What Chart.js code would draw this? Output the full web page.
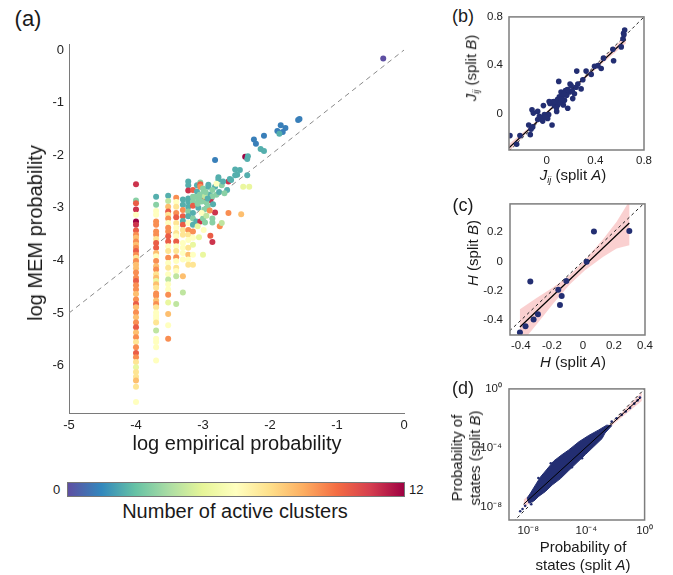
<!DOCTYPE html>
<html>
<head>
<meta charset="utf-8">
<script src="https://cdn.jsdelivr.net/npm/chart.js@4.4.1/dist/chart.umd.min.js"></script>
<style>
  body { margin: 0; background: #fff; width: 673px; height: 575px; position: relative; overflow: hidden;
         font-family: Arial, "Liberation Sans", sans-serif; color: #1a1a1a; }
  canvas { position: absolute; }
  .lbl { position: absolute; white-space: nowrap; line-height: 1; }
  .ctr { transform: translate(-50%, -50%); text-align: center; }
  .rot { transform: translate(-50%, -50%) rotate(-90deg); text-align: center; }
  .cbar { position: absolute; left: 67px; top: 482px; width: 336px; height: 13px; border: 1px solid #777; }
  sub { font-size: 60%; vertical-align: -0.3em; }
</style>
</head>
<body>
<canvas id="chartA" width="400" height="408" style="left:14px;top:32px"></canvas>
<canvas id="chartB" width="183" height="168" style="left:474px;top:4px"></canvas>
<canvas id="chartC" width="183" height="167" style="left:474px;top:190px"></canvas>
<canvas id="chartD" width="183" height="167" style="left:474px;top:375px"></canvas>

<div class="lbl ctr" style="left:28px;top:19px;font-size:22px">(a)</div>
<div class="lbl rot" style="left:35px;top:233px;font-size:20px">log MEM probability</div>
<div class="lbl ctr" style="left:237px;top:443px;font-size:20px">log empirical probability</div>
<div class="cbar" id="cbar"></div>
<div class="lbl" style="left:53px;top:483px;font-size:13px">0</div>
<div class="lbl" style="left:409px;top:483px;font-size:13px">12</div>
<div class="lbl ctr" style="left:235px;top:511px;font-size:20px">Number of active clusters</div>

<div class="lbl ctr" style="left:463px;top:16px;font-size:18px">(b)</div>
<div class="lbl rot" style="left:472px;top:68px;font-size:15px"><i>J</i><sub><i>ij</i></sub> (split <i>B</i>)</div>
<div class="lbl ctr" style="left:573px;top:176px;font-size:15px"><i>J</i><sub><i>ij</i></sub> (split <i>A</i>)</div>

<div class="lbl ctr" style="left:463px;top:205px;font-size:18px">(c)</div>
<div class="lbl rot" style="left:472px;top:253px;font-size:15px"><i>H</i> (split <i>B</i>)</div>
<div class="lbl ctr" style="left:573px;top:361px;font-size:15px"><i>H</i> (split <i>A</i>)</div>

<div class="lbl ctr" style="left:463px;top:388px;font-size:18px">(d)</div>
<div class="lbl rot" style="left:466px;top:458px;font-size:15px;line-height:18px">Probability of<br>states (split <i>B</i>)</div>
<div class="lbl ctr" style="left:583px;top:556px;font-size:15px;line-height:18px">Probability of<br>states (split <i>A</i>)</div>

<script>
// ---------- (a) data: log empirical vs log MEM probability ----------
// columns of states seen only a few times (x = log of count / N)
const colX = [-4, -3.7, -3.52, -3.4, -3.3, -3.22, -3.15];
const colY = [
  [-2.55, -2.86, -2.91, -3.03, -3.13, -3.26, -3.32, -3.43, -3.51, -3.57,
   -3.64, -3.70, -3.76, -3.82, -3.89, -3.95, -4.01, -4.08, -4.15, -4.23,
   -4.33, -4.39, -4.47, -4.55, -4.64, -4.74, -4.83, -4.89, -4.99, -5.08,
   -5.18, -5.27, -5.37, -5.46, -5.55, -5.65, -5.76, -5.84, -5.93, -6.03,
   -6.12, -6.21, -6.28, -6.40, -6.69],
  [-2.79, -2.94, -3.06, -3.13, -3.26, -3.32, -3.45, -3.51, -3.59, -3.67,
   -3.76, -3.86, -3.92, -4.01, -4.11, -4.17, -4.26, -4.33, -4.39, -4.45,
   -4.52, -4.63, -4.67, -4.76, -4.83, -4.89, -4.99, -5.05, -5.11, -5.18,
   -5.33, -5.49, -5.55, -5.65, -5.90],
  [-2.77, -2.87, -2.98, -3.07, -3.13, -3.20, -3.29, -3.38, -3.45, -3.54,
   -3.64, -3.73, -3.82, -3.95, -4.05, -4.14, -4.26, -4.36, -4.45, -4.55,
   -4.65, -4.80, -5.02, -5.23, -5.49],
  [-2.81, -2.89, -2.98, -3.10, -3.18, -3.29, -3.38, -3.48, -3.54, -3.64,
   -3.73, -3.82, -3.94, -4.01, -4.14, -4.20, -4.30, -4.83],
  [-2.84, -2.94, -3.04, -3.16, -3.25, -3.32, -3.42, -3.51, -3.67, -3.76,
   -3.86, -3.98, -4.30, -4.61],
  [-2.50, -2.57, -2.67, -2.82, -2.88, -2.98, -3.07, -3.16, -3.29, -3.42,
   -3.51, -3.61, -3.76, -3.89, -3.98, -4.08],
  [-2.66, -2.79, -2.88, -2.96, -3.10, -3.20, -3.32, -3.45, -3.57, -3.70,
   -3.89, -4.08]
];
const colC = [
  [11, 3, 10, 11, 6, 12, 11, 10, 9, 8,
   9, 8, 9, 10, 9, 7, 9, 8, 8, 9,
   9, 10, 9, 9, 8, 9, 10, 8, 9, 8,
   9, 10, 8, 9, 7, 9, 10, 9, 7, 5,
   7, 7, 8, 7, 6],
  [2, 3, 6, 6, 9, 9, 9, 9, 7, 10,
   10, 8, 6, 9, 8, 9, 7, 8, 5, 8,
   7, 9, 9, 8, 9, 7, 6, 6, 6, 7,
   4, 6, 6, 6, 6],
  [2, 4, 8, 10, 7, 9, 6, 9, 9, 10,
   10, 6, 7, 9, 6, 7, 6, 4, 6, 6,
   9, 5, 8, 6, 9],
  [9, 6, 7, 9, 10, 7, 6, 7, 6, 10,
   6, 7, 9, 6, 7, 6, 4, 4],
  [2, 2, 9, 10, 2, 10, 7, 7, 6, 6,
   6, 6, 8, 4],
  [2, 2, 11, 2, 2, 2, 3, 2, 6, 9,
   7, 6, 7, 8, 6, 7],
  [10, 3, 3, 10, 2, 3, 2, 9, 6, 5,
   6, 7]
];
// frequent states, scattered toward the diagonal
const sprX = [
  -0.31, -1.58, -1.56, -1.84, -1.77, -1.89, -1.81, -1.86, -2.09, -2.24,
  -2.21, -2.14, -2.09, -2.82, -2.37, -2.34, -2.33, -2.52, -2.49, -2.34,
  -2.45, -2.52, -2.40, -2.31, -2.62, -2.60, -2.58, -2.77, -2.77, -2.72,
  -2.70, -2.64, -3.09, -3.09, -3.04, -3.04, -3.04, -3.00, -2.92, -2.92,
  -2.90, -2.82, -2.80, -2.86, -3.12, -3.07, -3.02, -2.98, -2.89, -2.95,
  -2.86, -3.07, -2.98, -2.93, -2.82, -2.85, -2.80, -2.76, -2.68, -2.62,
  -2.43, -2.75, -2.72, -3.10, -3.04, -3.00, -2.97, -2.86, -2.86, -2.89,
  -2.86, -3.00, -3.06, -3.02, -2.95, -2.90, -3.08, -2.99, -3.05, -3.00,
  -2.97, -3.02, -2.96, -3.08, -2.93
];
const sprY = [
  -0.16, -1.33, -1.31, -1.43, -1.48, -1.54, -1.56, -1.59, -1.63, -1.70,
  -1.78, -1.88, -1.92, -2.09, -2.03, -2.07, -2.02, -2.27, -2.37, -2.38,
  -2.28, -2.38, -2.60, -2.60, -2.50, -2.45, -2.47, -2.42, -2.46, -2.57,
  -2.50, -2.66, -2.57, -2.69, -2.52, -2.55, -2.60, -2.63, -2.60, -2.56,
  -2.75, -2.60, -2.54, -2.66, -2.79, -2.84, -2.80, -2.86, -2.86, -2.90,
  -2.78, -3.00, -3.03, -2.97, -3.09, -2.93, -2.75, -2.70, -2.72, -3.10,
  -3.12, -3.35, -3.29, -3.26, -3.26, -3.20, -3.28, -3.20, -3.28, -3.53,
  -3.65, -3.89, -3.56, -3.10, -3.15, -3.05, -3.35, -3.42, -2.75, -2.72,
  -2.78, -2.88, -2.70, -2.92, -2.82
];
const sprC = [
  0, 1, 1, 1, 1, 1, 1, 2, 1, 1,
  1, 2, 2, 1, 12, 2, 2, 2, 2, 2,
  2, 2, 5, 5, 11, 2, 2, 2, 2, 3,
  2, 2, 2, 2, 3, 10, 9, 3, 2, 2,
  2, 2, 6, 3, 3, 3, 3, 10, 11, 3,
  3, 2, 3, 3, 11, 2, 3, 2, 3, 9,
  8, 9, 4, 2, 11, 3, 3, 3, 3, 10,
  11, 5, 5, 6, 4, 9, 5, 6, 3, 3,
  4, 3, 3, 3, 2
];
const diagA = [-5, 0];
const aTicksX = [-5, -4, -3, -2, -1, 0];
const aTicksY = [0, -1, -2, -3, -4, -5, -6];
const maxClusters = 12;

// ---------- (b) couplings J_ij, split A vs split B ----------
const bX = [-0.302, -0.247, -0.22, -0.148, -0.129, -0.135, -0.115, -0.121, -0.110, -0.074,
            -0.060, -0.074, -0.047, -0.033, -0.019, -0.027, 0, 0.016, 0.008, 0.044,
            0.027, 0.049, 0.063, 0.077, 0.082, 0.091, 0.099, 0.104, 0.118, 0.118,
            0.132, 0.137, 0.146, 0.154, 0.165, 0.173, 0.187, 0.192, 0.201, 0.214,
            0.228, 0.242, 0.247, 0.256, 0.283, 0.297, 0.324, 0.366, 0.393, 0.421,
            0.448, 0.467, 0.550, 0.544, 0.613, 0.627, 0.632, 0.641, 0.635, 0.06,
            0.09, 0.11, 0.14, 0.17, 0.21, 0.12, 0.08, -0.01, 0.02];
const bY = [-0.181, -0.253, -0.181, -0.093, -0.128, -0.173, -0.109, 0.032, 0.005, 0.019,
            -0.021, -0.048, -0.035, -0.061, -0.008, 0.067, -0.021, -0.008, -0.040, -0.093,
            0.085, 0.099, 0.067, 0.099, 0.019, 0.072, 0.267, 0.139, 0.099, 0.179,
            0.152, 0.072, 0.112, 0.192, 0.152, 0.045, 0.179, 0.245, 0.232, 0.125,
            0.165, 0.219, 0.352, 0.245, 0.205, 0.280, 0.352, 0.325, 0.392, 0.397,
            0.373, 0.459, 0.437, 0.533, 0.552, 0.619, 0.664, 0.691, 0.653, 0.10,
            0.12, 0.09, 0.16, 0.20, 0.19, 0.12, 0.05, -0.03, 0.10];
const fitBX = [-0.31, 0.65];
const fitBY = [-0.281, 0.613];
const bandBX = [-0.31, -0.15, 0, 0.15, 0.3, 0.45, 0.65];
const bandBUp = [-0.25, -0.118, 0.02, 0.161, 0.301, 0.446, 0.645];
const bandBLo = [-0.312, -0.146, -0.004, 0.135, 0.273, 0.408, 0.581];
const diagB = [-0.31, 0.8];
const bTicks = [0, 0.4, 0.8];

// ---------- (c) fields H, split A vs split B ----------
const cX = [-0.406, -0.37, -0.339, -0.318, -0.29, -0.159, -0.137, -0.148, -0.107, 0.024, 0.071, 0.299];
const cY = [-0.483, -0.441, -0.137, -0.394, -0.359, -0.192, -0.235, -0.296, -0.133, -0.003, 0.203, 0.206];
const fitCX = [-0.406, 0.299];
const fitCY = [-0.446, 0.260];
const bandCX = [-0.406, -0.299, -0.191, -0.084, 0.013, 0.131, 0.217, 0.299];
const bandCUp = [-0.326, -0.249, -0.176, -0.092, 0.009, 0.152, 0.268, 0.41];
const bandCLo = [-0.566, -0.429, -0.286, -0.156, -0.061, 0.032, 0.088, 0.11];
const diagC = [-0.5, 0.4];
const cTicksX = [-0.4, -0.2, 0, 0.2, 0.4];
const cTicksY = [-0.4, -0.2, 0, 0.2];

// ---------- (d) state probabilities (log10), split A vs split B ----------
// outline of the dense cloud of states, then the few loose states
const blobX = [-8.07, -7.84, -7.50, -7.16, -6.70, -6.24, -5.67, -5.21, -4.52, -3.84, -3.18, -2.60,
               -2.26, -2.72, -2.92, -3.49, -4.07, -4.64, -5.21, -5.78, -6.35, -6.81, -7.27, -7.61, -7.95];
const blobY = [-7.40, -7.07, -6.52, -5.98, -5.44, -4.89, -4.46, -4.14, -3.59, -3.16, -2.80, -2.46,
               -2.50, -3.00, -3.37, -3.91, -4.46, -5.00, -5.54, -6.09, -6.52, -6.96, -7.29, -7.61, -7.76];
const strayX = [-2.26, -1.92, -1.57, -1.30, -1.0, -0.71, -0.48, -0.32,
                -8.21, -8.39, -7.79, -8.55, -7.30, -6.45, -5.00, -4.30];
const strayY = [-2.22, -2.0, -1.76, -1.53, -1.29, -1.0, -0.78, -0.59,
                -7.94, -8.15, -7.83, -8.31, -6.05, -5.05, -5.32, -4.70];
const fitDX = [-8.32, -0.32];
const fitDY = [-7.83, -0.63];
const bandDX = [-8.3, -6, -4, -2, -0.2];
const bandDUp = [-7.51, -5.64, -3.88, -2.04, -0.22];
const bandDLo = [-8.11, -5.84, -4.00, -2.28, -0.82];
const diagD = [-9.32, 0];
const dTicks = [-8, -4, 0];

// ---------- styling helpers ----------
const FONT = 'Arial, "Liberation Sans", sans-serif';
const NAVY = '#232e72';
const PINK = 'rgba(244, 150, 150, 0.45)';
// matplotlib Spectral, reversed (0 clusters = purple, 12 = crimson)
const spectralR = ['#5e4fa2', '#3288bd', '#66c2a5', '#abdda4', '#e6f598', '#ffffbf',
                   '#fee08b', '#fdae61', '#f46d43', '#d53e4f', '#9e0142'];

function hexRgb(h) {
    return [parseInt(h.slice(1, 3), 16), parseInt(h.slice(3, 5), 16), parseInt(h.slice(5, 7), 16)];
}
function clusterColor(c) {
    const t = c / maxClusters * (spectralR.length - 1);
    const i = Math.min(Math.floor(t), spectralR.length - 2);
    const f = t - i;
    const a = hexRgb(spectralR[i]), b = hexRgb(spectralR[i + 1]);
    const m = a.map((v, k) => Math.round(v + (b[k] - v) * f));
    return `rgb(${m[0]}, ${m[1]}, ${m[2]})`;
}
const zip = (xs, ys) => xs.map((x, i) => ({ x, y: ys[i] }));

document.getElementById('cbar').style.background =
    'linear-gradient(to right, ' + spectralR.join(', ') + ')';

// draws a box around the plotting area
const framePlugin = {
    id: 'frame',
    afterDraw(chart, args, opts) {
        if (!opts.show) return;
        const { ctx, chartArea: a } = chart;
        ctx.save();
        ctx.strokeStyle = '#7d7d7d';
        ctx.lineWidth = 1.5;
        ctx.strokeRect(a.left, a.top, a.right - a.left, a.bottom - a.top);
        ctx.restore();
    }
};

const sup = { '-': '\u207B', '0': '\u2070', '4': '\u2074', '8': '\u2078' };
const powLabel = v => '10' + String(v).split('').map(ch => sup[ch]).join('');

function makeOptions(o) {
    const axis = (min, max, ticks, fit, pad) => ({
        type: 'linear', min, max,
        grid: { display: false, drawTicks: false },
        border: { display: !o.frame, color: '#7a7a7a', width: 1 },
        afterBuildTicks: s => { s.ticks = ticks.map(v => ({ value: v })); },
        afterFit: fit,
        ticks: { font: { family: FONT, size: o.fs }, color: '#222', padding: pad,
                 maxRotation: 0, autoSkip: false, callback: o.fmt || (v => String(v)) }
    });
    return {
        responsive: false,
        animation: false,
        events: [],
        layout: { padding: { left: 0, top: o.top, right: o.right, bottom: 0 } },
        plugins: { legend: { display: false }, tooltip: { enabled: false }, frame: { show: o.frame } },
        scales: {
            x: axis(o.xMin, o.xMax, o.xTicks, s => { s.height = o.xH; }, o.xPad),
            y: axis(o.yMin, o.yMax, o.yTicks, s => { s.width = o.yW; }, o.yPad)
        }
    };
}

function lineSet(xs, ys, color, width, dash, order) {
    return { type: 'line', data: zip(xs, ys), borderColor: color, borderWidth: width,
             borderDash: dash, pointRadius: 0, fill: false, tension: 0, order };
}
function bandSet(xs, up, lo, order) {
    const pts = zip(xs, up).concat(zip(xs, lo).reverse());
    pts.push(pts[0]);
    return { type: 'line', data: pts, borderWidth: 0, borderColor: 'rgba(0,0,0,0)',
             backgroundColor: PINK, pointRadius: 0, fill: 'shape', tension: 0, order };
}

// ---------- (a) ----------
const aPoints = [], aColors = [];
colX.forEach((x, k) => {
    colY[k].forEach((y, i) => { aPoints.push({ x, y }); aColors.push(clusterColor(colC[k][i])); });
});
sprX.forEach((x, i) => { aPoints.push({ x, y: sprY[i] }); aColors.push(clusterColor(sprC[i])); });

new Chart(document.getElementById('chartA'), {
    type: 'scatter',
    data: {
        datasets: [
            { data: aPoints, backgroundColor: aColors, pointRadius: 3, pointBorderWidth: 0, order: 1 },
            lineSet(diagA, diagA, '#8a8a8a', 1, [5, 4], 2)
        ]
    },
    options: makeOptions({ frame: false, fs: 13, top: 10, right: 10, xH: 27, yW: 55, xPad: 5, yPad: 5,
                           xMin: -5, xMax: 0, yMin: -6.9, yMax: 0.1, xTicks: aTicksX, yTicks: aTicksY })
});

// ---------- (b) ----------
new Chart(document.getElementById('chartB'), {
    type: 'scatter',
    data: {
        datasets: [
            { data: zip(bX, bY), backgroundColor: NAVY, pointRadius: 2.8, pointBorderWidth: 0, order: 1 },
            lineSet(fitBX, fitBY, '#000', 1.2, [], 2),
            lineSet(diagB, diagB, '#222', 1, [3, 3], 3),
            bandSet(bandBX, bandBUp, bandBLo, 4)
        ]
    },
    options: makeOptions({ frame: true, fs: 11.5, top: 8, right: 13, xH: 22, yW: 35, xPad: 4, yPad: 6,
                           xMin: -0.31, xMax: 0.8, yMin: -0.3, yMax: 0.8, xTicks: bTicks, yTicks: bTicks }),
    plugins: [framePlugin]
});

// ---------- (c) ----------
new Chart(document.getElementById('chartC'), {
    type: 'scatter',
    data: {
        datasets: [
            { data: zip(cX, cY), backgroundColor: NAVY, pointRadius: 3, pointBorderWidth: 0, order: 1 },
            lineSet(fitCX, fitCY, '#000', 1.2, [], 2),
            lineSet(diagC, diagC, '#222', 1, [3, 3], 3),
            bandSet(bandCX, bandCUp, bandCLo, 4)
        ]
    },
    options: makeOptions({ frame: true, fs: 11.5, top: 8, right: 12, xH: 22, yW: 36, xPad: 4, yPad: 7,
                           xMin: -0.47, xMax: 0.4, yMin: -0.5, yMax: 0.39, xTicks: cTicksX, yTicks: cTicksY }),
    plugins: [framePlugin]
});

// ---------- (d) ----------
const blobPts = zip(blobX, blobY);
blobPts.push(blobPts[0]);
new Chart(document.getElementById('chartD'), {
    type: 'scatter',
    data: {
        datasets: [
            lineSet(fitDX, fitDY, '#000', 1, [], 1),
            { data: zip(strayX, strayY), backgroundColor: NAVY, pointRadius: 1.3, pointBorderWidth: 0, order: 2 },
            { type: 'line', data: blobPts, borderColor: NAVY, borderWidth: 1, backgroundColor: NAVY,
              pointRadius: 0, fill: 'shape', tension: 0, order: 3 },
            lineSet(diagD, diagD, '#222', 1, [3, 3], 4),
            bandSet(bandDX, bandDUp, bandDLo, 5)
        ]
    },
    options: makeOptions({ frame: true, fs: 11.5, top: 8, right: 12, xH: 22, yW: 35, xPad: 4, yPad: 7,
                           xMin: -9.32, xMax: 0, yMin: -8.9, yMax: 0, xTicks: dTicks, yTicks: dTicks,
                           fmt: powLabel }),
    plugins: [framePlugin]
});
</script>
</body>
</html>
